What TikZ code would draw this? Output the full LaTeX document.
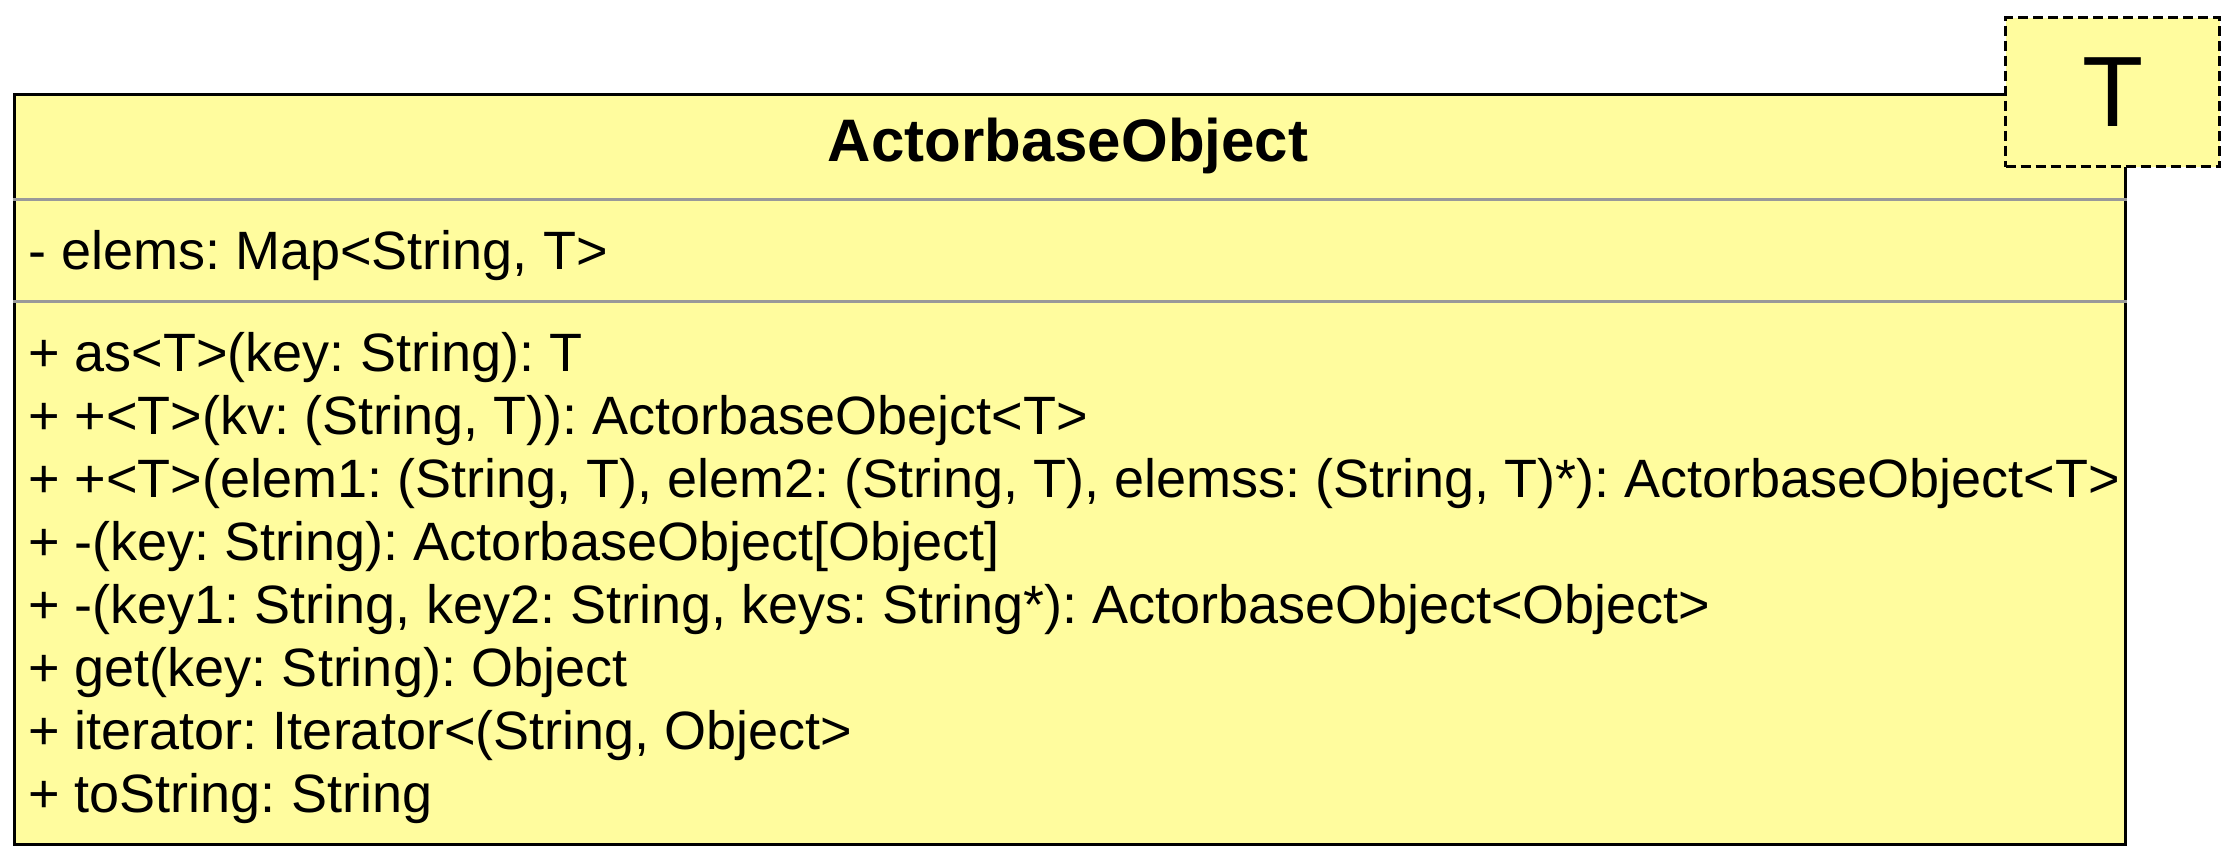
\documentclass[tikz,border=0pt]{standalone}
\usepackage{fontspec}
\setmainfont{Liberation Sans}
\usepackage{tikz}
\usetikzlibrary{positioning}
\definecolor{umlyellow}{RGB}{255,252,158}
\definecolor{sepgray}{RGB}{153,153,153}
\frenchspacing

\begin{document}
\begin{tikzpicture}[x=0.5pt, y=-0.5pt]
    \tikzstyle{classbox} = [rectangle, draw=black, line width=1.7pt, fill=umlyellow, inner sep=0pt, anchor=north west]
    \tikzstyle{parambox} = [rectangle, draw=black, line width=1.6pt, dash pattern=on 5pt off 2.5pt, fill=umlyellow, inner sep=0pt, anchor=north west]
    \tikzstyle{sep} = [draw=sepgray, line width=1.5pt]
    \tikzstyle{member} = [inner sep=0pt, anchor=base west, font=\fontsize{27pt}{31.5pt}\selectfont]
    \useasboundingbox (0,0) rectangle (2228,854);

    \node (cls) [classbox, minimum width=1055.5pt, minimum height=375pt] at (13,93) {};
    \node (param) [parambox, minimum width=107pt, minimum height=74.5pt, font=\fontsize{50pt}{60pt}\selectfont] at (2004,16) {T};

    \coordinate (sepA) at ([yshift=-53.5pt]cls.north west);
    \coordinate (sepB) at ([yshift=-53.5pt]cls.north east);
    \coordinate (sepC) at ([yshift=-104.5pt]cls.north west);
    \coordinate (sepD) at ([yshift=-104.5pt]cls.north east);
    \draw[sep] (sepA) -- (sepB);
    \draw[sep] (sepC) -- (sepD);

    \node (title) [inner sep=0pt, anchor=base, font=\bfseries\fontsize{30pt}{36pt}\selectfont] at (1068,162) {ActorbaseObject};

    \node (elems) [member] at (28,270) {- elems: Map<String, T>};

    \node (asT) [member] at (28,372) {+ as<T>(key: String): T};
    \node (plusKv) [member, below = 31.5pt of asT.base west, anchor=base west] {+ +<T>(kv: (String, T)): ActorbaseObejct<T>};
    \node (plusElems) [member, below = 31.5pt of plusKv.base west, anchor=base west] {+ +<T>(elem1: (String, T), elem2: (String, T), elemss: (String, T)*): ActorbaseObject<T>};
    \node (minusKey) [member, below = 31.5pt of plusElems.base west, anchor=base west] {+ -(key: String): ActorbaseObject[Object]};
    \node (minusKeys) [member, below = 31.5pt of minusKey.base west, anchor=base west] {+ -(key1: String, key2: String, keys: String*): ActorbaseObject<Object>};
    \node (get) [member, below = 31.5pt of minusKeys.base west, anchor=base west] {+ get(key: String): Object};
    \node (iter) [member, below = 31.5pt of get.base west, anchor=base west] {+ iterator: Iterator<(String, Object>};
    \node (toStr) [member, below = 31.5pt of iter.base west, anchor=base west] {+ toString: String};
\end{tikzpicture}
\end{document}
